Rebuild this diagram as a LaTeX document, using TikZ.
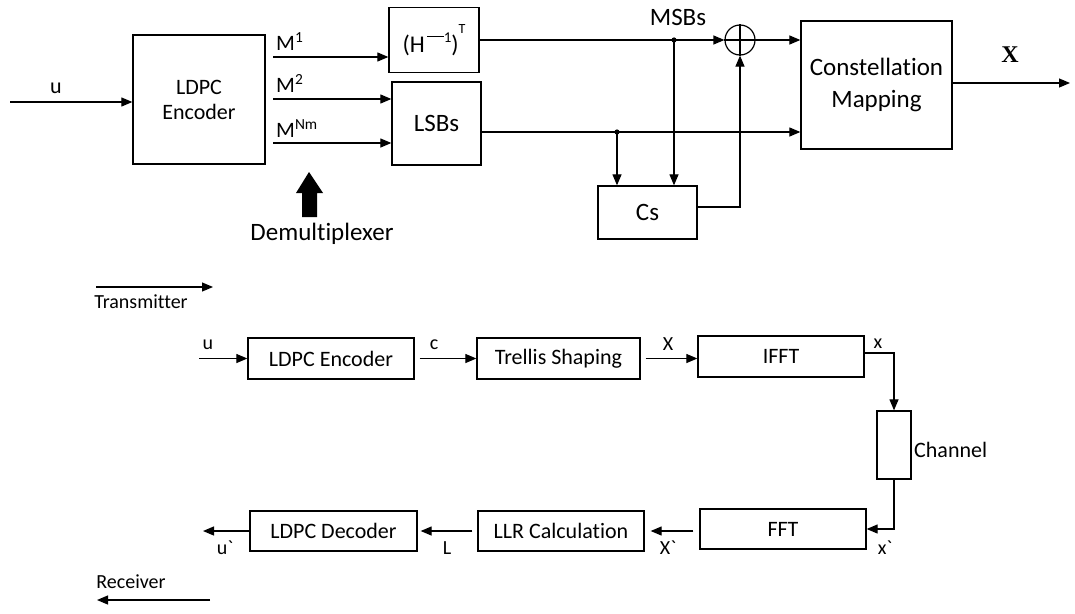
\documentclass[tikz,border=0pt]{standalone}
\usepackage{fontspec}
\setmainfont[Ligatures={NoCommon}]{Carlito}
\newfontfamily\serifb{Liberation Serif}
\usetikzlibrary{arrows.meta,calc}
\newcommand\fsA{\fontsize{22}{25}\selectfont}
\newcommand\fsB{\fontsize{25}{29}\selectfont}
\newcommand\fsC{\fontsize{20}{23}\selectfont}
\begin{document}
\begin{tikzpicture}[x=1pt,y=-1pt,
  box/.style={draw,line width=1.3pt,inner sep=0pt,align=center},
  arr/.style={line width=1.2pt,-{Triangle[length=11pt,width=9pt]}},
  ln/.style={line width=1.2pt},
  lbl/.style={inner sep=0pt,font=\fsA},
  sml/.style={inner sep=0pt,font=\fsC}]
\useasboundingbox (0,0) rectangle (1075,613);

% ---------- top: transmitter detail ----------
\node[box,minimum width=132pt,minimum height=129pt,font=\fsA] (enc) at (199,99.5) {LDPC\\[0pt]Encoder};
\node[box,minimum width=90pt,minimum height=65pt,font=\fontsize{24}{28}\selectfont] (hinv) at (434,40)
  {(H\raisebox{0.42em}{\fontsize{15}{15}\selectfont\,\rule[0.35em]{1.1em}{0.9pt}1})\raisebox{0.8em}{\fontsize{14}{14}\selectfont T}};
\node[box,minimum width=89pt,minimum height=83pt,font=\fsB] (lsb) at (436.5,123.5) {LSBs};
\node[draw,circle,line width=1.2pt,minimum size=30pt,inner sep=0pt] (sum) at (740,40) {};
\draw[line width=1.2pt] (sum.north) -- (sum.south) (sum.west) -- (sum.east);
\node[box,minimum width=99pt,minimum height=53pt,font=\fsB] (cs) at (647.5,212.5) {Cs};
\node[box,minimum width=151pt,minimum height=128pt,font=\fsB] (cm) at (876.5,85) {Constellation\\[3pt]Mapping};

\coordinate (uin) at (10,102);
\draw[arr] (uin) -- (uin -| enc.west);
\node[lbl] (ulab) at (56,88) {u};

\coordinate (m1) at (273,57);
\coordinate (m2) at (273,99);
\coordinate (m3) at (273,143);
\draw[arr] (m1) -- (m1 -| hinv.west);
\draw[arr] (m2) -- (m2 -| lsb.west);
\draw[arr] (m3) -- (m3 -| lsb.west);
\node[lbl,anchor=base west] (m1l) at (276,50) {M\textsuperscript{1}};
\node[lbl,anchor=base west] (m2l) at (276,92) {M\textsuperscript{2}};
\node[lbl,anchor=base west] (m3l) at (276,137) {M\textsuperscript{Nm}};

% MSB path
\coordinate (d1) at (674,40);
\draw[arr] (hinv.east) -- (sum.west);
\fill (d1) circle (2.6pt);
\draw[arr] (d1) -- (d1 |- cs.north);
\node[inner sep=0pt,font=\fsB] (msb) at (678,17) {MSBs};
\draw[arr] (sum.east) -- (sum.east -| cm.west);

% LSB path
\coordinate (l0) at ($(lsb.east)+(0,8.5)$);
\coordinate (d2) at (617,132);
\draw[arr] (l0) -- (l0 -| cm.west);
\fill (d2) circle (2.6pt);
\draw[arr] (d2) -- (d2 |- cs.north);

% Cs to adder
\coordinate (c0) at ($(cs.east)+(0,-5.5)$);
\draw[arr] (c0) -| (sum.south);

% output
\coordinate (xout) at (1070,83);
\draw[arr] (cm.east |- xout) -- (xout);
\node[inner sep=0pt,font=\fontsize{24}{28}\selectfont\serifb\bfseries] (xlab) at (1010,55) {X};

% demultiplexer block arrow
\fill (302,217) -- (302,193) -- (296,193) -- (309,172) -- (323,193) -- (317,193) -- (317,217) -- cycle;
\node[inner sep=0pt,font=\fsB] (demux) at (322,234) {Demultiplexer};

% transmitter legend
\coordinate (t1) at (96,287);
\coordinate (t2) at (213,287);
\draw[arr] (t1) -- (t2);
\node[inner sep=0pt,font=\fsC] (tx) at (141,302) {Transmitter};

% ---------- bottom: system chain ----------
\node[box,minimum width=166pt,minimum height=41pt,font=\fsA] (e2) at (331,358.5) {LDPC Encoder};
\node[box,minimum width=163pt,minimum height=41pt,font=\fsA] (ts) at (558.5,358.5) {Trellis Shaping};
\node[box,minimum width=166pt,minimum height=41pt,font=\fsA] (ifft) at (781,356.5) {IFFT};
\node[box,minimum width=34pt,minimum height=68pt] (ch) at (894,445) {};
\node[inner sep=0pt,font=\fsA,anchor=west] (chl) at (914,450) {Channel};
\node[box,minimum width=166pt,minimum height=40pt,font=\fsA] (fft) at (783,529) {FFT};
\node[box,minimum width=166pt,minimum height=40pt,font=\fsA] (llr) at (561,531) {LLR Calculation};
\node[box,minimum width=167pt,minimum height=40pt,font=\fsA] (dec) at (333.5,531) {LDPC Decoder};

\coordinate (uin2) at (199,358.5);
\draw[arr] (uin2) -- (e2.west);
\node[sml] (u2l) at (208,345) {u};
\draw[arr,shorten <=5pt] (e2.east) -- (ts.west);
\node[sml] (cl) at (434,345) {c};
\draw[arr,shorten <=5pt] (ts.east) -- (ts.east -| ifft.west);
\node[sml] (Xl) at (668,344) {X};
\draw[arr] ($(ifft.east)+(0,-3.5)$) -| (ch.north);
\node[sml] (xl) at (878,344) {x};
\draw[arr] (ch.south) |- (fft.east);
\node[sml] (xpl) at (885,548) {x\textasciigrave};
\draw[arr,shorten <=6pt,shorten >=6pt] (fft.west |- llr.east) -- (llr.east);
\node[sml] (Xpl) at (668,548) {X\textasciigrave};
\draw[arr,shorten <=5pt,shorten >=3pt] (llr.west) -- (dec.east);
\node[sml] (Ll) at (447,548) {L};
\coordinate (uout) at (203,531);
\draw[arr] (dec.west) -- (uout);
\node[sml] (uol) at (225,548) {u\textasciigrave};

% receiver legend
\coordinate (r1) at (210,600);
\coordinate (r2) at (97,600);
\draw[arr] (r1) -- (r2);
\node[inner sep=0pt,font=\fsC] (rx) at (131,582) {Receiver};
\end{tikzpicture}
\end{document}
